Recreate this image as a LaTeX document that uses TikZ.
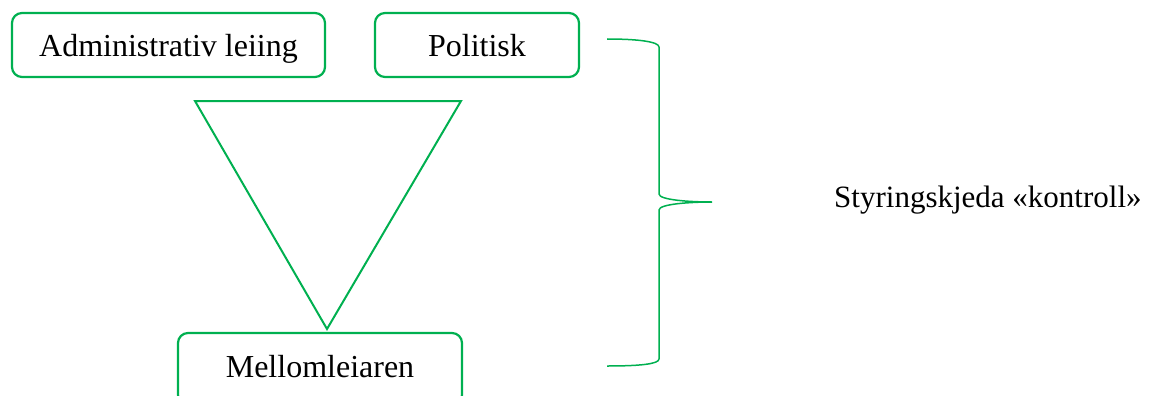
\documentclass[tikz,border=0pt]{standalone}
\usepackage{fontspec}
\setmainfont{Liberation Serif}
\definecolor{wordgreen}{HTML}{00B050}
\begin{document}
\begin{tikzpicture}[x=1pt,y=1pt,
  box/.style={draw=wordgreen,line width=2.2pt,rounded corners=10pt,rectangle,
    inner sep=0pt,text height=31pt,text depth=7pt,
    font=\fontsize{32}{38}\selectfont,text=black},
  edge/.style={draw=wordgreen,line width=2pt,line join=miter},
  brace/.style={draw=wordgreen,line width=1.5pt}]
\useasboundingbox (0,0) rectangle (1151,-396);
\clip (0,0) rectangle (1151,-396);
\node[box,minimum width=313pt,minimum height=64pt] (adm) at (168.5,-45) {Administrativ leiing};
\node[box,minimum width=204pt,minimum height=64pt] (pol) at (477,-45) {Politisk};
\node[box,minimum width=284pt,minimum height=72pt,text depth=15pt] (mel) at (320,-369) {Mellomleiaren};
\coordinate (tl) at (195,-101);
\coordinate (tr) at (461,-101);
\coordinate (tb) at (327,-329);
\draw[edge] (tl) -- (tr) -- (tb) -- cycle;
\coordinate (bt) at (607,-39);
\coordinate (tip) at (712,-202);
\coordinate (bb) at (607,-366);
\draw[brace] (bt) .. controls (640,-39) and (659,-42) .. (659,-47)
  -- (659,-194) .. controls (659,-200) and (690,-202) .. (tip)
  .. controls (690,-202) and (659,-204) .. (659,-210)
  -- (659,-359) .. controls (659,-364) and (640,-366) .. (bb);
\node[anchor=base west,inner sep=0pt,font=\fontsize{31}{37}\selectfont] (lab) at (834,-207.5) {Styringskjeda «kontroll»};
\end{tikzpicture}
\end{document}
